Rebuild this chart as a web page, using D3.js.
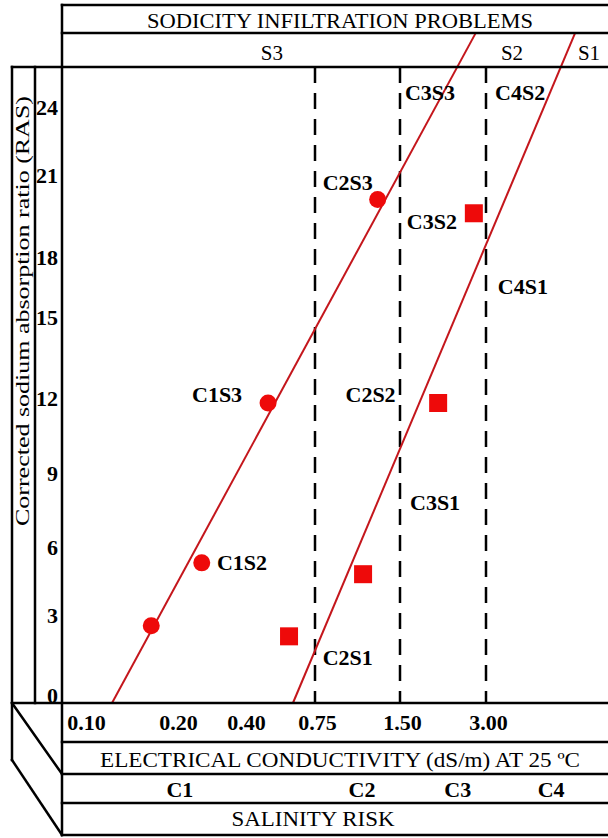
<!DOCTYPE html>
<html>
<head>
<meta charset="utf-8">
<script src="https://cdn.jsdelivr.net/npm/d3@7"></script>
<style>
  html, body { margin: 0; padding: 0; background: #fff; }
  svg { display: block; }
  text { font-family: "Liberation Serif", "Times New Roman", serif; }
</style>
</head>
<body>
<svg id="chart"></svg>
<script>
// electrical conductivity ticks (dS/m) and the class limits drawn dashed
const ecTicks = [0.10, 0.20, 0.40, 0.75, 1.50, 3.00];
const ecBounds = [0.75, 1.50, 3.00];
const sarTicks = [0, 3, 6, 9, 12, 15, 18, 21, 24];

// samples: circles and squares
const circleEC  = [0.166, 0.26, 0.495, 1.25];
const circleSAR = [2.6, 5.3, 11.8, 20.1];
const squareEC  = [0.596, 1.11, 2.04, 2.72];
const squareSAR = [2.2, 4.8, 11.8, 19.6];

// sodicity limits S3/S2 and S2/S1 (ec, sar)
const limitS3S2 = [[0.1235, -0.3], [2.76, 27.26]];
const limitS2S1 = [[0.617, -0.3], [6.15, 27.26]];

// class names written inside the plot
const zoneNames = ['C3S3', 'C4S2', 'C2S3', 'C3S2', 'C4S1', 'C1S3', 'C2S2', 'C3S1', 'C1S2', 'C2S1'];
const zoneEC    = [1.91, 3.95, 0.98, 1.94, 4.04, 0.304, 1.18, 1.99, 0.392, 0.98];
const zoneSAR   = [24.3, 24.3, 20.45, 19.02, 16.15, 11.84, 11.84, 7.5, 4.99, 1.125];

const sodicityNames = ['S3', 'S2', 'S1'];
const sodicityEC    = [0.512, 3.70, 6.88];
const salinityNames = ['C1', 'C2', 'C3', 'C4'];
const salinityEC    = [0.208, 1.10, 2.39, 5.07];

const svgWidth = 608;
const svgHeight = 838;
const plotTop = 67, plotBottom = 703;

const svg = d3.select('#chart')
    .attr('width', svgWidth)
    .attr('height', svgHeight);

// the diagram is schematic, so both axes are piecewise
const x = d3.scaleLog()
    .domain(ecTicks)
    .range([84, 176, 244, 315, 400, 486]);

const y = d3.scaleLinear()
    .domain(sarTicks)
    .range([695, 615, 547, 473, 398, 317, 257, 175, 107]);

const serif = '"Liberation Serif", "Times New Roman", serif';
const red = '#ee0a0a';
const lineRed = '#c4161c';

// dashed salinity limits
svg.selectAll('line.limit')
    .data(ecBounds)
    .enter()
    .append('line')
    .attr('class', 'limit')
    .attr('x1', d => x(d))
    .attr('x2', d => x(d))
    .attr('y1', plotTop)
    .attr('y2', plotBottom)
    .attr('stroke', '#000')
    .attr('stroke-width', 2.5)
    .attr('stroke-dasharray', '16,10');

// sodicity limit lines
const line = d3.line()
    .x(d => x(d[0]))
    .y(d => y(d[1]));

svg.selectAll('path.sodicity')
    .data([limitS3S2, limitS2S1])
    .enter()
    .append('path')
    .attr('class', 'sodicity')
    .attr('d', line)
    .attr('fill', 'none')
    .attr('stroke', lineRed)
    .attr('stroke-width', 2);

// frame
const frameLines = [
    [62, 5, 608, 5], [62, 33, 608, 33], [12, 67, 608, 67], [12, 703, 608, 703],
    [62, 742, 608, 742], [62, 774, 608, 774], [62, 803, 608, 803], [62, 835, 608, 835],
    [62, 5, 62, 835], [12, 67, 12, 760], [35, 67, 35, 703],
    [12, 703, 62, 774], [12, 760, 62, 835]
];
svg.append('g')
    .selectAll('line')
    .data(frameLines)
    .enter()
    .append('line')
    .attr('x1', d => d[0]).attr('y1', d => d[1])
    .attr('x2', d => d[2]).attr('y2', d => d[3])
    .attr('stroke', '#000')
    .attr('stroke-width', 2.5)
    .attr('stroke-linecap', 'square');

// axes
const yAxis = svg.append('g')
    .attr('transform', 'translate(58,0)')
    .call(d3.axisLeft(y).tickValues(sarTicks).tickSize(0).tickPadding(0));
yAxis.select('.domain').remove();
yAxis.attr('font-family', serif).attr('font-size', 22).attr('font-weight', 'bold');
yAxis.selectAll('text').attr('dy', '0.32em').attr('fill', '#000');

const xAxis = svg.append('g')
    .attr('transform', 'translate(0,' + plotBottom + ')')
    .call(d3.axisBottom(x).tickValues(ecTicks).tickSize(0).tickFormat(d3.format('.2f')));
xAxis.select('.domain').remove();
xAxis.attr('font-family', serif).attr('font-size', 22).attr('font-weight', 'bold');
xAxis.selectAll('text').attr('y', 27).attr('dy', 0).attr('dx', 2).attr('fill', '#000');

// samples
svg.selectAll('circle.sample')
    .data(circleEC)
    .enter()
    .append('circle')
    .attr('class', 'sample')
    .attr('cx', d => x(d))
    .attr('cy', (d, i) => y(circleSAR[i]))
    .attr('r', 8.5)
    .attr('fill', red);

svg.selectAll('rect.sample')
    .data(squareEC)
    .enter()
    .append('rect')
    .attr('class', 'sample')
    .attr('x', d => x(d) - 9)
    .attr('y', (d, i) => y(squareSAR[i]) - 9)
    .attr('width', 18)
    .attr('height', 18)
    .attr('fill', red);

// class names
svg.selectAll('text.zone')
    .data(zoneNames)
    .enter()
    .append('text')
    .attr('class', 'zone')
    .attr('x', (d, i) => x(zoneEC[i]))
    .attr('y', (d, i) => y(zoneSAR[i]))
    .attr('text-anchor', 'middle')
    .attr('font-size', 22)
    .attr('font-weight', 'bold')
    .text(d => d);

// header and footer texts
svg.append('text')
    .attr('x', 340).attr('y', 28)
    .attr('text-anchor', 'middle')
    .attr('font-size', 20)
    .attr('textLength', 386)
    .attr('lengthAdjust', 'spacingAndGlyphs')
    .text('SODICITY INFILTRATION PROBLEMS');

svg.selectAll('text.sodicity')
    .data(sodicityNames)
    .enter()
    .append('text')
    .attr('class', 'sodicity')
    .attr('x', (d, i) => x(sodicityEC[i]))
    .attr('y', 60)
    .attr('text-anchor', 'middle')
    .attr('font-size', 21)
    .text(d => d);

svg.append('text')
    .attr('x', 340).attr('y', 767)
    .attr('text-anchor', 'middle')
    .attr('font-size', 21)
    .attr('textLength', 480)
    .attr('lengthAdjust', 'spacingAndGlyphs')
    .text('ELECTRICAL  CONDUCTIVITY (dS/m) AT 25 ºC');

svg.selectAll('text.salinity')
    .data(salinityNames)
    .enter()
    .append('text')
    .attr('class', 'salinity')
    .attr('x', (d, i) => x(salinityEC[i]))
    .attr('y', 797)
    .attr('text-anchor', 'middle')
    .attr('font-size', 22)
    .attr('font-weight', 'bold')
    .text(d => d);

svg.append('text')
    .attr('x', 313).attr('y', 826)
    .attr('text-anchor', 'middle')
    .attr('font-size', 21)
    .attr('textLength', 163)
    .attr('lengthAdjust', 'spacingAndGlyphs')
    .text('SALINITY RISK');

// y title
svg.append('text')
    .attr('transform', 'translate(29,311) rotate(-90)')
    .attr('text-anchor', 'middle')
    .attr('font-size', 19)
    .attr('textLength', 430)
    .attr('lengthAdjust', 'spacingAndGlyphs')
    .text('Corrected sodium absorption ratio (RAS)');
</script>
</body>
</html>
